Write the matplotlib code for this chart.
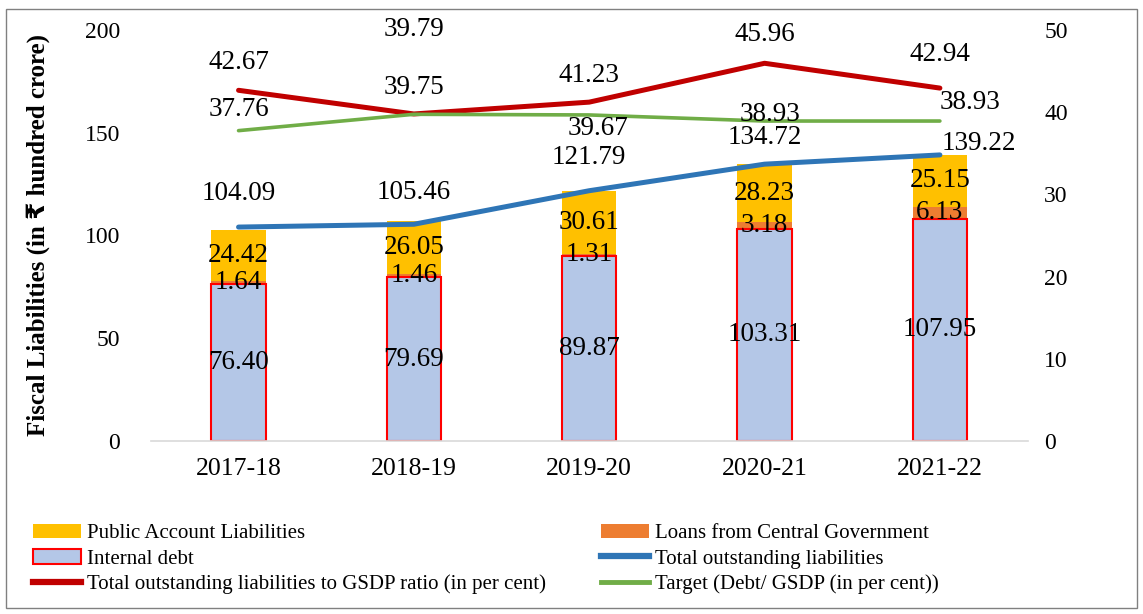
import matplotlib
matplotlib.use("Agg")
import matplotlib.pyplot as plt
import numpy as np
from matplotlib.patches import Rectangle
from matplotlib.lines import Line2D

plt.rcParams['font.family'] = ['Liberation Serif', 'DejaVu Sans']

years = ['2017-18', '2018-19', '2019-20', '2020-21', '2021-22']
internal_debt = [76.40, 79.69, 89.87, 103.31, 107.95]
central_loans = [1.64, 1.46, 1.31, 3.18, 6.13]
public_account = [24.42, 26.05, 30.61, 28.23, 25.15]
total_liab = [104.09, 105.46, 121.79, 134.72, 139.22]
gsdp_ratio = [42.67, 39.79, 41.23, 45.96, 42.94]
target = [37.76, 39.75, 39.67, 38.93, 38.93]

# label offsets in points (dx, dy)
total_off = [(0, 24), (0, 23), (0, 24), (0, 19), (28, 8)]
ratio_off = [(0, 20), (0, 61), (0, 19), (0, 21), (0, 24)]
target_off = [(0, 15), (0, 19), (6, -10), (4, 5), (22, 13)]

fig = plt.figure(figsize=(11.43, 6.14), dpi=100)
ax = fig.add_axes([0.132, 0.282, 0.767, 0.669])
ax2 = ax.twinx()

x = np.arange(len(years))
w = 0.31
ax.bar(x, internal_debt, w, color='#B4C7E7', edgecolor='#FF0000', linewidth=1.5, zorder=2)
ax.bar(x, central_loans, w, bottom=internal_debt, color='#ED7D31', zorder=1)
base2 = np.array(internal_debt) + np.array(central_loans)
ax.bar(x, public_account, w, bottom=base2, color='#FFC000', zorder=1)
ax.plot(x, total_liab, color='#2E75B6', lw=3.6, solid_capstyle='round', zorder=3)

fs = 19.5
for i in range(len(x)):
    ax.text(x[i], internal_debt[i] / 2, f'{internal_debt[i]:.2f}', ha='center', va='center', fontsize=fs, zorder=5)
    ax.text(x[i], internal_debt[i] + central_loans[i] / 2, f'{central_loans[i]:.2f}', ha='center', va='center', fontsize=fs, zorder=5)
    ax.text(x[i], base2[i] + public_account[i] / 2, f'{public_account[i]:.2f}', ha='center', va='center', fontsize=fs, zorder=5)
    ax.annotate(f'{total_liab[i]:.2f}', (x[i], total_liab[i]), xytext=total_off[i], textcoords='offset points',
                ha='center', va='center', fontsize=fs)

ax2.plot(x, gsdp_ratio, color='#C00000', lw=3.6, solid_capstyle='round')
ax2.plot(x, target, color='#70AD47', lw=2.6, solid_capstyle='round')
for i in range(len(x)):
    ax2.annotate(f'{gsdp_ratio[i]:.2f}', (x[i], gsdp_ratio[i]), xytext=ratio_off[i], textcoords='offset points',
                 ha='center', va='center', fontsize=fs)
    ax2.annotate(f'{target[i]:.2f}', (x[i], target[i]), xytext=target_off[i], textcoords='offset points',
                 ha='center', va='center', fontsize=fs)

ax.set_xlim(-0.5, 4.5)
ax.set_ylim(0, 200)
ax2.set_ylim(0, 50)
ax.set_yticks(range(0, 201, 50))
ax2.set_yticks(range(0, 51, 10))
ax.set_xticks(x)
ax.set_xticklabels(years)
for a in (ax, ax2):
    for s in a.spines.values():
        s.set_visible(False)
    a.tick_params(length=0, labelsize=17)
ax.spines['bottom'].set_visible(True)
ax.spines['bottom'].set_color('#D9D9D9')
ax.spines['bottom'].set_linewidth(1.2)
ax.tick_params(axis='x', pad=12, labelsize=18.5)
ax.tick_params(axis='y', pad=22)
ax2.tick_params(axis='y', pad=12)
ax.set_ylabel('Fiscal Liabilities (in ₹ hundred crore)', fontsize=18, fontweight='bold', labelpad=25)

left_handles = [
    Rectangle((0, 0), 1, 1, facecolor='#FFC000'),
    Rectangle((0, 0), 1, 1, facecolor='#B4C7E7', edgecolor='#FF0000', lw=1.5),
    Line2D([], [], color='#C00000', lw=4.5),
]
left_labels = ['Public Account Liabilities', 'Internal debt',
               'Total outstanding liabilities to GSDP ratio (in per cent)']
right_handles = [
    Rectangle((0, 0), 1, 1, facecolor='#ED7D31'),
    Line2D([], [], color='#2E75B6', lw=4.5),
    Line2D([], [], color='#70AD47', lw=3.5),
]
right_labels = ['Loans from Central Government', 'Total outstanding liabilities',
                'Target (Debt/ GSDP (in per cent))']
leg_kw = dict(loc='center left', frameon=False, fontsize=15, handlelength=2.3, handletextpad=0.3,
              labelspacing=0.28, borderpad=0, borderaxespad=0)
fig.legend(left_handles, left_labels, bbox_to_anchor=(0.029, 0.0896), **leg_kw)
fig.legend(right_handles, right_labels, bbox_to_anchor=(0.526, 0.0896), **leg_kw)

fig.patches.append(Rectangle((0.005, 0.01), 0.99, 0.975, transform=fig.transFigure, fill=False,
                             edgecolor='#808080', lw=1))

fig.savefig('out.png', dpi=100)
